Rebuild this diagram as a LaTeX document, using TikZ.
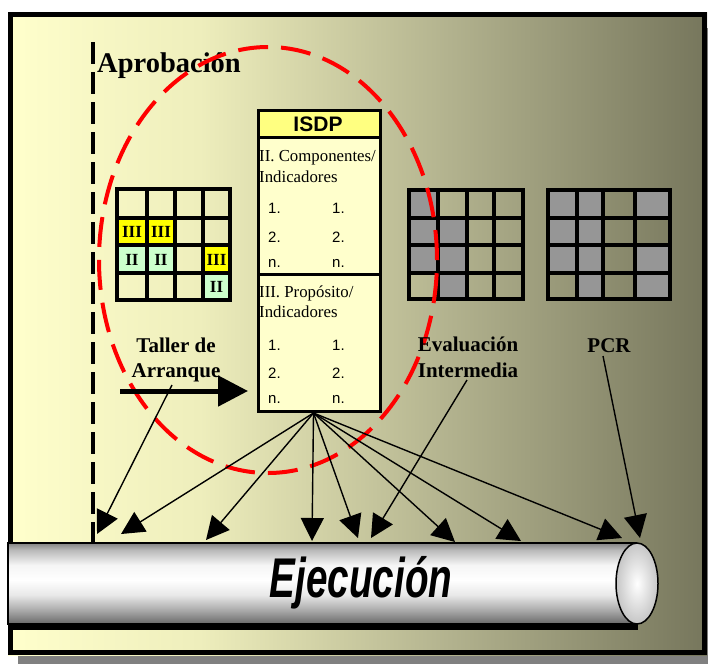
\documentclass[tikz,border=0pt]{standalone}
\usepackage{fontspec}
\setmainfont{Liberation Serif}
\newfontfamily\arialf{Liberation Sans}
\newfontfamily\narrowf{Liberation Sans}[FakeStretch=0.69]
\usetikzlibrary{arrows.meta}
\definecolor{bgA}{RGB}{255,255,204}
\definecolor{bgB}{RGB}{238,238,188}
\definecolor{bgC}{RGB}{178,178,142}
\definecolor{bgD}{RGB}{118,118,92}
\definecolor{shadowgray}{RGB}{128,128,128}
\definecolor{cellY}{RGB}{255,255,0}
\definecolor{cellG}{RGB}{204,255,204}
\definecolor{cellGray}{RGB}{150,150,150}
\definecolor{boxfill}{RGB}{255,255,204}
\definecolor{hdrfill}{RGB}{255,255,128}
\definecolor{cyA}{RGB}{105,105,105}
\definecolor{cyB}{RGB}{170,170,170}
\definecolor{cyC}{RGB}{232,232,232}
\definecolor{cyD}{RGB}{245,245,245}
\definecolor{cyE}{RGB}{185,185,185}
\definecolor{cyF}{RGB}{130,130,130}
\pgfdeclarehorizontalshading{bgshade}{100bp}{color(0bp)=(bgA); color(25bp)=(bgA); color(38.7bp)=(bgB); color(56.6bp)=(bgC); color(75bp)=(bgD); color(100bp)=(bgD)}
\pgfdeclareverticalshading{cylshade}{100bp}{color(0bp)=(cyA); color(25bp)=(cyA); color(33.6bp)=(cyB); color(42.9bp)=(cyC); color(52.2bp)=(white); color(61.4bp)=(cyD); color(70.7bp)=(cyE); color(75bp)=(cyF); color(100bp)=(cyF)}
\tikzset{
  lbl/.style={font=\bfseries\fontsize{21}{25}\selectfont, anchor=base, inner sep=0},
  celltxt/.style={font=\bfseries\fontsize{17}{17}\selectfont, inner sep=0},
  boxtxt/.style={font=\fontsize{16.8}{20}\selectfont, anchor=base west, inner sep=0},
  numtxt/.style={font=\arialf\fontsize{15}{15}\selectfont, anchor=base west, inner sep=0},
  gridline/.style={line width=4pt, line cap=rect},
  arr/.style={line width=1.4pt, -{Triangle[length=23pt,width=23pt]}},
  bigarr/.style={line width=5pt, -{Triangle[length=30pt,width=30pt]}}
}
\begin{document}
\begin{tikzpicture}[x=1pt,y=-1pt]
\useasboundingbox (0,0) rectangle (708,664);
% shadow and frame
\fill[shadowgray] (18,28) rectangle (708,664);
\shade[shading=bgshade] (8,12) rectangle (707,655);
\draw[line width=5pt] (10.5,14.5) rectangle (704.5,652.5);
% dashed approval line
\draw[line width=4pt, dash pattern=on 22pt off 8pt] (93,42) -- (93,543);
\node[font=\bfseries\fontsize{28.5}{30}\selectfont, anchor=base west, inner sep=0] (aprob) at (97,72) {Aprobación};
% left grid
\fill[cellY] (117,218) rectangle (175,245);
\fill[cellG] (117,245) rectangle (175,273);
\fill[cellY] (203,245) rectangle (230,273);
\fill[cellG] (203,273) rectangle (230,300);
\foreach \x in {117,147,175,203,230} \draw[gridline] (\x,189) -- (\x,300);
\foreach \y in {189,218,245,273,300} \draw[gridline] (117,\y) -- (230,\y);
\node[celltxt] (g1) at (132,232) {III};
\node[celltxt] (g2) at (161,232) {III};
\node[celltxt] (g3) at (132,259.5) {II};
\node[celltxt] (g4) at (161,259.5) {II};
\node[celltxt] (g5) at (216.5,259.5) {III};
\node[celltxt] (g6) at (216.5,287) {II};
% middle grid
\fill[cellGray] (409,190) rectangle (438,245);
\fill[cellGray] (438,218) rectangle (467,245);
\fill[cellGray] (409,245) rectangle (467,273);
\fill[cellGray] (438,273) rectangle (467,299);
\foreach \x in {409,438,467,494,523} \draw[gridline] (\x,190) -- (\x,299);
\foreach \y in {190,218,245,273,299} \draw[gridline] (409,\y) -- (523,\y);
% right grid
\fill[cellGray] (548,190) rectangle (603,273);
\fill[cellGray] (577,273) rectangle (603,299);
\fill[cellGray] (635,190) rectangle (670,218);
\fill[cellGray] (635,245) rectangle (670,299);
\foreach \x in {548,577,603,635,670} \draw[gridline] (\x,190) -- (\x,299);
\foreach \y in {190,218,245,273,299} \draw[gridline] (548,\y) -- (670,\y);
% red dashed ellipse
\draw[red, line width=4pt, dash pattern=on 30pt off 13pt] (268,260) ellipse [x radius=169pt, y radius=213pt];
% ISDP box
\fill[boxfill] (257,109) rectangle (379,410);
\fill[hdrfill] (257,109) rectangle (379,137);
\draw[line width=3pt] (257,137) -- (379,137);
\draw[line width=3pt] (257,274) -- (379,274);
\node[draw, line width=3pt, minimum width=122pt, minimum height=301pt, inner sep=0, anchor=north west] (isdp) at (257,109) {};
\node[font=\arialf\bfseries\fontsize{21}{21}\selectfont, inner sep=0] (isdpt) at (318,124) {ISDP};
\node[boxtxt] (s1a) at (259,161) {II. Componentes/};
\node[boxtxt] (s1b) at (259,182) {Indicadores};
\node[numtxt] (n11) at (268,213) {1.};
\node[numtxt] (n12) at (332,213) {1.};
\node[numtxt] (n13) at (268,242) {2.};
\node[numtxt] (n14) at (332,242) {2.};
\node[numtxt] (n15) at (268,267) {n.};
\node[numtxt] (n16) at (332,267) {n.};
\node[boxtxt] (s2a) at (259,297) {III. Propósito/};
\node[boxtxt] (s2b) at (259,317) {Indicadores};
\node[numtxt] (n21) at (268,350) {1.};
\node[numtxt] (n22) at (332,350) {1.};
\node[numtxt] (n23) at (268,378) {2.};
\node[numtxt] (n24) at (332,378) {2.};
\node[numtxt] (n25) at (268,403) {n.};
\node[numtxt] (n26) at (332,403) {n.};
% labels
\node[lbl] (taller1) at (176,352) {Taller de};
\node[lbl] (taller2) at (176,377) {Arranque};
\node[lbl] (eval1) at (468,351) {Evaluación};
\node[lbl] (eval2) at (468,377) {Intermedia};
\node[lbl] (pcr) at (609,352) {PCR};
% coordinates
\coordinate (hub) at ([xshift=-6pt]isdp.south);
\coordinate (bs) at (120,391);
\coordinate (be) at (248,391);
\coordinate (tstart) at (172,385);
\coordinate (estart) at (467,380);
\coordinate (pstart) at (603,356);
\coordinate (t1) at (97,534);
\coordinate (t2) at (121,534);
\coordinate (t3) at (206,540);
\coordinate (t4) at (312,541);
\coordinate (t5) at (358,538);
\coordinate (t6) at (371,538);
\coordinate (t7) at (455,542);
\coordinate (t8) at (521,541);
\coordinate (t9) at (622,538);
\coordinate (t10) at (640,538);
% arrows
\draw[bigarr] (bs) -- (be);
\draw[arr] (tstart) -- (t1);
\draw[arr] (hub) -- (t2);
\draw[arr] (hub) -- (t3);
\draw[arr] (hub) -- (t4);
\draw[arr] (hub) -- (t5);
\draw[arr] (estart) -- (t6);
\draw[arr] (hub) -- (t7);
\draw[arr] (hub) -- (t8);
\draw[arr] (hub) -- (t9);
\draw[arr] (pstart) -- (t10);
% cylinder
\fill[black] (10,624) rectangle (638,630);
\shade[shading=cylshade] (8,543) rectangle (637,624);
\draw[line width=1.2pt] (637,543) -- (8,543) -- (8,624) -- (637,624);
\shade[inner color=white, outer color=gray!45, draw=black, line width=1.5pt] (637,583.5) ellipse [x radius=21pt, y radius=40.5pt];
\node[font=\narrowf\bfseries\itshape\fontsize{56}{60}\selectfont, inner sep=0] (ejec) at (361,583) {Ejecución};
\end{tikzpicture}
\end{document}
